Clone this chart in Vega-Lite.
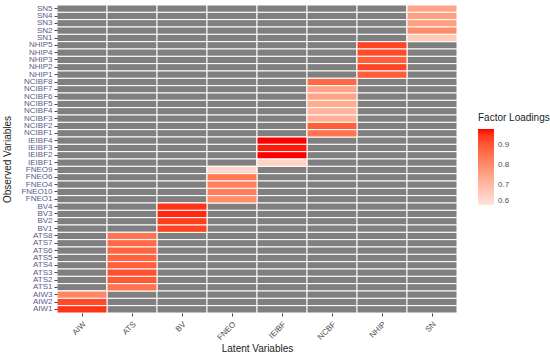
{
  "$schema": "https://vega.github.io/schema/vega-lite/v6.json",
  "width": 400,
  "height": 308,
  "autosize": {"type": "none"},
  "padding": {"left": 57, "top": 5, "right": 93, "bottom": 46},
  "background": "white",
  "config": {
    "font": "Liberation Sans",
    "view": {"stroke": null}
  },
  "data": {
    "values": [
      {"obs": "SN5", "SN": 0.75},
      {"obs": "SN4", "SN": 0.76},
      {"obs": "SN3", "SN": 0.76},
      {"obs": "SN2", "SN": 0.80},
      {"obs": "SN1", "SN": 0.66},
      {"obs": "NHIP5", "NHIP": 0.93},
      {"obs": "NHIP4", "NHIP": 0.92},
      {"obs": "NHIP3", "NHIP": 0.89},
      {"obs": "NHIP2", "NHIP": 0.93},
      {"obs": "NHIP1", "NHIP": 0.89},
      {"obs": "NCIBF8", "NCBF": 0.87},
      {"obs": "NCIBF7", "NCBF": 0.75},
      {"obs": "NCIBF6", "NCBF": 0.75},
      {"obs": "NCIBF5", "NCBF": 0.73},
      {"obs": "NCIBF4", "NCBF": 0.71},
      {"obs": "NCIBF3", "NCBF": 0.72},
      {"obs": "NCIBF2", "NCBF": 0.89},
      {"obs": "NCIBF1", "NCBF": 0.85},
      {"obs": "IEIBF4", "IEIBF": 0.98},
      {"obs": "IEIBF3", "IEIBF": 0.97},
      {"obs": "IEIBF2", "IEIBF": 0.98},
      {"obs": "IEIBF1", "IEIBF": 0.64},
      {"obs": "FNEO9", "FNEO": 0.63},
      {"obs": "FNEO6", "FNEO": 0.84},
      {"obs": "FNEO4", "FNEO": 0.83},
      {"obs": "FNEO10", "FNEO": 0.83},
      {"obs": "FNEO1", "FNEO": 0.80},
      {"obs": "BV4", "BV": 0.95},
      {"obs": "BV3", "BV": 0.96},
      {"obs": "BV2", "BV": 0.94},
      {"obs": "BV1", "BV": 0.93},
      {"obs": "ATS8", "ATS": 0.85},
      {"obs": "ATS7", "ATS": 0.87},
      {"obs": "ATS6", "ATS": 0.88},
      {"obs": "ATS5", "ATS": 0.88},
      {"obs": "ATS4", "ATS": 0.89},
      {"obs": "ATS3", "ATS": 0.91},
      {"obs": "ATS2", "ATS": 0.90},
      {"obs": "ATS1", "ATS": 0.85},
      {"obs": "AIW3", "AIW": 0.81},
      {"obs": "AIW2", "AIW": 0.92},
      {"obs": "AIW1", "AIW": 0.95}
    ]
  },
  "transform": [
    {"fold": ["AIW", "ATS", "BV", "FNEO", "IEIBF", "NCBF", "NHIP", "SN"], "as": ["latent", "loading"]}
  ],
  "encoding": {
    "x": {
      "field": "latent",
      "type": "nominal",
      "sort": ["AIW", "ATS", "BV", "FNEO", "IEIBF", "NCBF", "NHIP", "SN"],
      "scale": {"paddingInner": 0, "paddingOuter": 0},
      "axis": {
        "title": "Latent Variables",
        "titleFontSize": 10,
        "titleFontWeight": "normal",
        "titleColor": "#222222",
        "titlePadding": 2,
        "labelAngle": -45,
        "labelAlign": "right",
        "labelBaseline": "top",
        "labelFontSize": 8,
        "labelColor": "#4d4d4d",
        "labelPadding": 4,
        "tickSize": 3,
        "tickColor": "#444444",
        "domain": false,
        "grid": false
      }
    },
    "y": {
      "field": "obs",
      "type": "nominal",
      "sort": ["SN5", "SN4", "SN3", "SN2", "SN1", "NHIP5", "NHIP4", "NHIP3", "NHIP2", "NHIP1", "NCIBF8", "NCIBF7", "NCIBF6", "NCIBF5", "NCIBF4", "NCIBF3", "NCIBF2", "NCIBF1", "IEIBF4", "IEIBF3", "IEIBF2", "IEIBF1", "FNEO9", "FNEO6", "FNEO4", "FNEO10", "FNEO1", "BV4", "BV3", "BV2", "BV1", "ATS8", "ATS7", "ATS6", "ATS5", "ATS4", "ATS3", "ATS2", "ATS1", "AIW3", "AIW2", "AIW1"],
      "scale": {"paddingInner": 0, "paddingOuter": 0},
      "axis": {
        "title": "Observed Variables",
        "titleFontSize": 10,
        "titleFontWeight": "normal",
        "titleColor": "#222222",
        "titlePadding": 8,
        "labelFontSize": 8,
        "labelColor": "#5a5a88",
        "labelPadding": 2,
        "tickSize": 3,
        "tickColor": "#444444",
        "domain": false,
        "grid": false
      }
    }
  },
  "layer": [
    {
      "mark": {"type": "rect", "fill": "#7f7f7f", "stroke": "white", "strokeWidth": 1}
    },
    {
      "transform": [{"filter": "isValid(datum.loading)"}],
      "mark": {"type": "rect", "stroke": "white", "strokeWidth": 1},
      "encoding": {
        "fill": {
          "field": "loading",
          "type": "quantitative",
          "scale": {"domain": [0.6, 0.98], "range": ["#FFE4DC", "#FF0000"], "interpolate": "lab", "clamp": true},
          "legend": {
            "title": "Factor Loadings",
            "orient": "none",
            "legendX": 421,
            "legendY": 108,
            "direction": "vertical",
            "gradientLength": 76,
            "gradientThickness": 16,
            "gradientStrokeWidth": 0,
            "values": [0.6, 0.7, 0.8, 0.9],
            "titleFontSize": 10,
            "titleFontWeight": "normal",
            "titleColor": "#222222",
            "titlePadding": 6,
            "labelFontSize": 8,
            "labelColor": "#4d4d4d",
            "labelOffset": 4
          }
        }
      }
    }
  ]
}
